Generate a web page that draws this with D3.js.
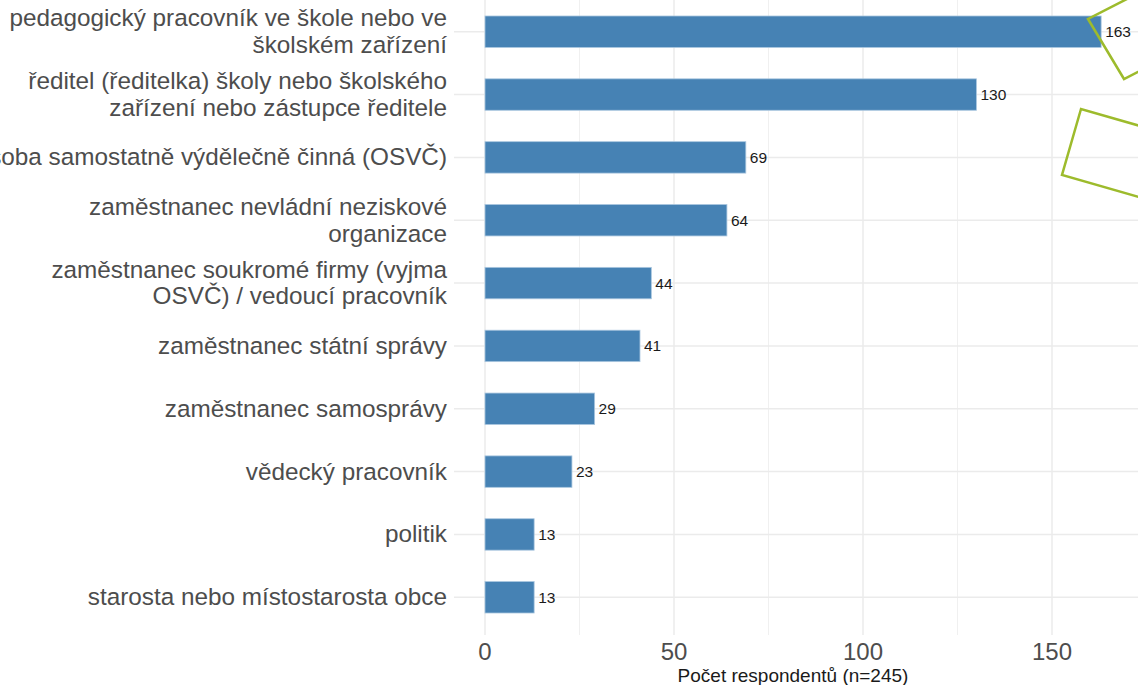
<!DOCTYPE html>
<html>
<head>
<meta charset="utf-8">
<script src="https://cdn.jsdelivr.net/npm/d3@7"></script>
<style>
  body { margin: 0; background: #fff; }
  svg { display: block; font-family: "Liberation Sans", Arial, sans-serif; }
</style>
</head>
<body>
<div id="chart"></div>
<script>
// data
var categories = [
  ["pedagogický pracovník ve škole nebo ve", "školském zařízení"],
  ["ředitel (ředitelka) školy nebo školského", "zařízení nebo zástupce ředitele"],
  ["osoba samostatně výdělečně činná (OSVČ)"],
  ["zaměstnanec nevládní neziskové", "organizace"],
  ["zaměstnanec soukromé firmy (vyjma", "OSVČ) / vedoucí pracovník"],
  ["zaměstnanec státní správy"],
  ["zaměstnanec samosprávy"],
  ["vědecký pracovník"],
  ["politik"],
  ["starosta nebo místostarosta obce"]
];
var counts = [163, 130, 69, 64, 44, 41, 29, 23, 13, 13];
var xTicks = [0, 50, 100, 150];
var xMinorTicks = [25, 75, 125, 175];
var xTitle = "Počet respondentů (n=245)";

var svgWidth = 1138;
var svgHeight = 685;

var svg = d3.select("#chart")
  .append("svg")
  .attr("width", svgWidth)
  .attr("height", svgHeight);

var rows = categories.map(function(c, i) { return { id: i, lines: c, value: counts[i] }; });

// scales
var x = d3.scaleLinear()
  .domain([0, 150])
  .range([485, 1052]);

var panelLeft = 454, panelRight = 1160, panelTop = -6, panelBottom = 635;

var y = d3.scalePoint()
  .domain(rows.map(function(d) { return d.id; }))
  .range([panelTop, panelBottom])
  .padding(0.6);

var barH = y.step() * 0.5;

// gridlines
var grid = svg.append("g");
grid.selectAll(".minor")
  .data(xMinorTicks)
  .enter().append("line")
  .attr("x1", d => x(d)).attr("x2", d => x(d))
  .attr("y1", panelTop).attr("y2", panelBottom)
  .attr("stroke", "#f0f0f0")
  .attr("stroke-width", 1);

grid.selectAll(".major")
  .data(xTicks)
  .enter().append("line")
  .attr("x1", d => x(d)).attr("x2", d => x(d))
  .attr("y1", panelTop).attr("y2", panelBottom)
  .attr("stroke", "#ebebeb")
  .attr("stroke-width", 1.5);

grid.selectAll(".hgrid")
  .data(rows)
  .enter().append("line")
  .attr("x1", panelLeft).attr("x2", panelRight)
  .attr("y1", d => y(d.id)).attr("y2", d => y(d.id))
  .attr("stroke", "#ebebeb")
  .attr("stroke-width", 1.5);

// bars
svg.selectAll("rect.bar")
  .data(rows)
  .enter().append("rect")
  .attr("class", "bar")
  .attr("x", x(0))
  .attr("y", d => y(d.id) - barH / 2)
  .attr("width", d => x(d.value) - x(0))
  .attr("height", barH)
  .attr("fill", "#4682b4")
  .attr("stroke", "#a9c6df")
  .attr("stroke-width", 0.8);

// value labels
svg.selectAll("text.val")
  .data(rows)
  .enter().append("text")
  .attr("class", "val")
  .attr("x", d => x(d.value) + 4)
  .attr("y", d => y(d.id))
  .attr("dy", "0.35em")
  .attr("font-size", 15.5)
  .attr("fill", "#1a1a1a")
  .text(d => d.value);

// category labels
var lineH = 26.5;
var catLabels = svg.selectAll("text.cat")
  .data(rows)
  .enter().append("text")
  .attr("class", "cat")
  .attr("text-anchor", "end")
  .attr("font-size", 24.3)
  .attr("fill", "#4d4d4d");

catLabels.each(function(d) {
  var t = d3.select(this);
  var n = d.lines.length;
  d.lines.forEach(function(line, j) {
    t.append("tspan")
      .attr("x", 447)
      .attr("y", y(d.id) + (j - (n - 1) / 2) * lineH)
      .attr("dy", "0.33em")
      .text(line);
  });
});

// x axis tick labels
svg.selectAll("text.tick")
  .data(xTicks)
  .enter().append("text")
  .attr("class", "tick")
  .attr("x", d => x(d))
  .attr("y", 660)
  .attr("text-anchor", "middle")
  .attr("font-size", 24)
  .attr("fill", "#4d4d4d")
  .text(d => d);

svg.append("text")
  .attr("x", 793)
  .attr("y", 682)
  .attr("text-anchor", "middle")
  .attr("font-size", 19)
  .attr("fill", "#1a1a1a")
  .text(xTitle);

// green annotation frames drawn over the chart
var frames = [
  [[1088, 19], [1124, 79], [1198, 41], [1162, -19]],
  [[1081, 109], [1062, 175], [1212, 218], [1231, 152]]
];
svg.selectAll("polygon.frame")
  .data(frames)
  .enter().append("polygon")
  .attr("class", "frame")
  .attr("points", d => d.map(p => p.join(",")).join(" "))
  .attr("fill", "none")
  .attr("stroke", "#9dbb2c")
  .attr("stroke-width", 2.5);
</script>
</body>
</html>
